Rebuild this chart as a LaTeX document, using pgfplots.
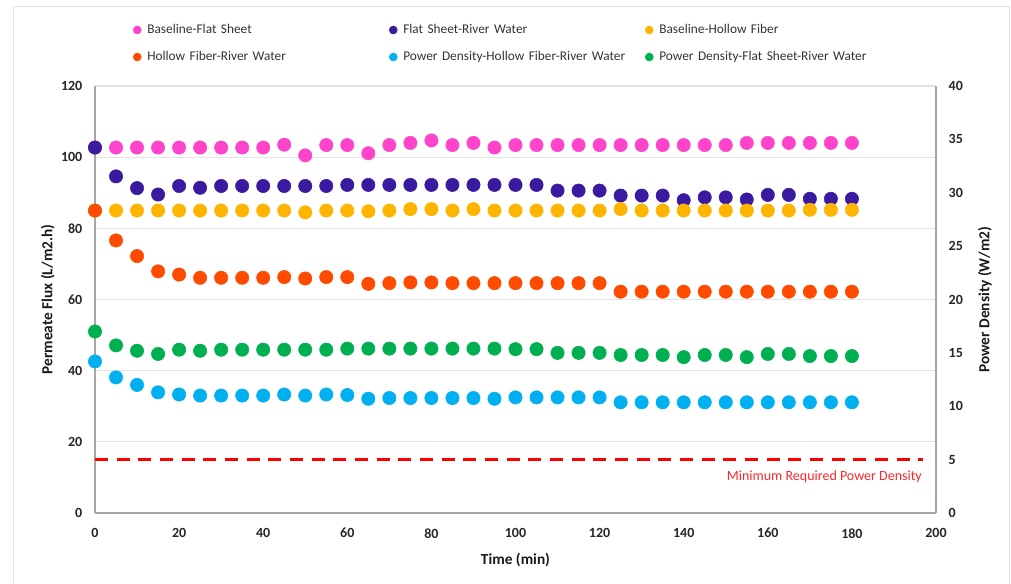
\documentclass[border=0pt]{standalone}
\usepackage{fontspec}
\setmainfont{Carlito}
\usepackage{pgfplots}
\usepackage{pgfplotstable}
\pgfplotsset{compat=1.18}

\definecolor{cPink}{HTML}{FF44CC}
\definecolor{cNavy}{HTML}{3A1AA0}
\definecolor{cYel}{HTML}{FFB400}
\definecolor{cRed}{HTML}{FF4B00}
\definecolor{cCyan}{HTML}{00B0F0}
\definecolor{cGreen}{HTML}{00B050}
\definecolor{axgray}{HTML}{A6A6A6}
\definecolor{gridgray}{HTML}{E3E3E3}

% flux in L/m2.h (bfs, fsr, bhf, hfr), power density in W/m2 (pdh, pdf)
\pgfplotstableread{
t    bfs    fsr    bhf    hfr    pdh    pdf
0    102.7  102.7  85.0   85.0   14.2   17.0
5    102.7  94.6   85.0   76.6   12.7   15.7
10   102.7  91.3   85.0   72.2   12.0   15.2
15   102.7  89.5   85.0   67.9   11.3   14.9
20   102.7  91.9   85.0   67.0   11.1   15.3
25   102.7  91.4   85.0   66.1   11.0   15.2
30   102.7  91.9   85.0   66.1   11.0   15.3
35   102.7  91.9   85.0   66.1   11.0   15.3
40   102.7  91.9   85.0   66.1   11.0   15.3
45   103.5  91.9   85.0   66.3   11.1   15.3
50   100.5  91.9   84.5   65.9   11.0   15.3
55   103.4  91.9   85.0   66.3   11.1   15.3
60   103.4  92.2   85.0   66.3   11.05  15.4
65   101.1  92.2   84.8   64.4   10.7   15.4
70   103.4  92.2   85.0   64.6   10.77  15.4
75   104.0  92.2   85.4   64.8   10.77  15.4
80   104.7  92.2   85.4   64.8   10.77  15.4
85   103.4  92.2   85.0   64.6   10.77  15.4
90   104.0  92.2   85.4   64.6   10.77  15.4
95   102.7  92.2   85.0   64.6   10.7   15.4
100  103.4  92.2   85.0   64.6   10.83  15.35
105  103.4  92.2   85.0   64.6   10.83  15.35
110  103.4  90.6   85.0   64.6   10.83  15.0
115  103.4  90.6   85.0   64.6   10.83  15.0
120  103.4  90.6   85.0   64.6   10.83  15.0
125  103.4  89.2   85.4   62.2   10.37  14.8
130  103.4  89.2   85.0   62.2   10.37  14.8
135  103.4  89.2   85.0   62.2   10.37  14.8
140  103.4  87.9   85.0   62.2   10.37  14.6
145  103.4  88.7   85.0   62.2   10.37  14.8
150  103.4  88.7   85.0   62.2   10.37  14.8
155  104.0  88.1   85.0   62.2   10.37  14.6
160  104.0  89.4   85.0   62.2   10.37  14.9
165  104.0  89.4   85.0   62.2   10.37  14.9
170  104.0  88.3   85.2   62.2   10.37  14.7
175  104.0  88.3   85.2   62.2   10.37  14.7
180  104.0  88.3   85.2   62.2   10.37  14.7
}\fluxdata

\pgfplotsset{
  chartbase/.style={
    at={(71.25pt,-384.75pt)}, anchor=south west,
    scale only axis, width=630.75pt, height=320.25pt,
    xmin=0, xmax=200, clip=false,
    major tick length=0pt,
    axis line style={axgray, line width=1.1pt, -},
    tick label style={font=\bfseries\fontsize{10.5}{12}\selectfont, text=black!85},
    label style={font=\bfseries\fontsize{11.5}{13}\selectfont, text=black!90},
    /pgf/number format/assume math mode=true,
  },
  dots/.style={only marks, mark=*, mark size=5pt, mark options={draw=none}, color=#1},
}

\begin{document}
\begin{tikzpicture}
\useasboundingbox (0pt,0pt) rectangle (758.25pt,-438pt);
\draw[black!12, line width=0.75pt] (9.75pt,-438pt) -- (9.75pt,-5.25pt) -- (756.75pt,-5.25pt) -- (756.75pt,-438pt);

\begin{axis}[chartbase,
    ymin=0, ymax=120,
    axis x line*=bottom, axis y line*=left,
    xtick={0,20,...,200}, ytick={0,20,...,120},
    ymajorgrids, grid style={gridgray, line width=0.8pt},
    xticklabel style={yshift=-8pt},
    yticklabel style={xshift=-6pt},
    xlabel={Time (min)},
    ylabel={Permeate Flux (L/m2.h)},
    xlabel style={at={(axis description cs:0.5,-0.11)}, anchor=center},
    ylabel style={at={(axis description cs:-0.056,0.5)}, anchor=center},
]
\addplot[dots=cPink] table[x=t, y=bfs] {\fluxdata};
\addplot[dots=cNavy] table[x=t, y=fsr] {\fluxdata};
\addplot[dots=cYel]  table[x=t, y=bhf] {\fluxdata};
\addplot[dots=cRed]  table[x=t, y=hfr] {\fluxdata};
\end{axis}

\begin{axis}[chartbase,
    ymin=0, ymax=40,
    axis x line=none, axis y line*=right,
    ytick={0,5,...,40},
    yticklabel style={xshift=6pt},
    ylabel={Power Density (W/m2)},
    ylabel style={at={(axis description cs:1.058,0.5)}, anchor=center, rotate=0},
    legend columns=3,
    legend cell align=left,
    legend image code/.code={\draw[#1, mark size=3pt] plot coordinates {(0pt,0pt)};},
    legend style={at={(axis description cs:0.0452,1.0995)}, anchor=west,
      draw=none, fill=none, inner sep=0pt,
      font=\fontsize{10}{12}\selectfont, text=black!80,
      /tikz/row sep=10.25pt,
      /tikz/every odd column/.append style={column sep=2.5pt},
      /tikz/every even column/.append style={column sep=0pt},
      nodes={inner xsep=2pt, inner ysep=0pt, text width=179.5pt,
             text height=7.5pt, text depth=2.5pt}},
]
\addlegendimage{dots=cPink}
\addlegendentry{Baseline-Flat Sheet}
\addlegendimage{dots=cNavy}
\addlegendentry{Flat Sheet-River Water}
\addlegendimage{dots=cYel}
\addlegendentry{Baseline-Hollow Fiber}
\addlegendimage{dots=cRed}
\addlegendentry{Hollow Fiber-River Water}
\addplot[red, line width=2.2pt, dash pattern=on 9.75pt off 6.5pt, forget plot]
  coordinates {(0,5) (197,5)};
\node[anchor=east, text=red!85, font=\fontsize{10.5}{12}\selectfont, inner sep=0pt]
  at (axis cs:196.7,3.37) {Minimum Required Power Density};
\addplot[dots=cCyan]  table[x=t, y=pdh] {\fluxdata};
\addlegendentry{Power Density-Hollow Fiber-River Water}
\addplot[dots=cGreen] table[x=t, y=pdf] {\fluxdata};
\addlegendentry{Power Density-Flat Sheet-River Water}
\end{axis}
\end{tikzpicture}
\end{document}
